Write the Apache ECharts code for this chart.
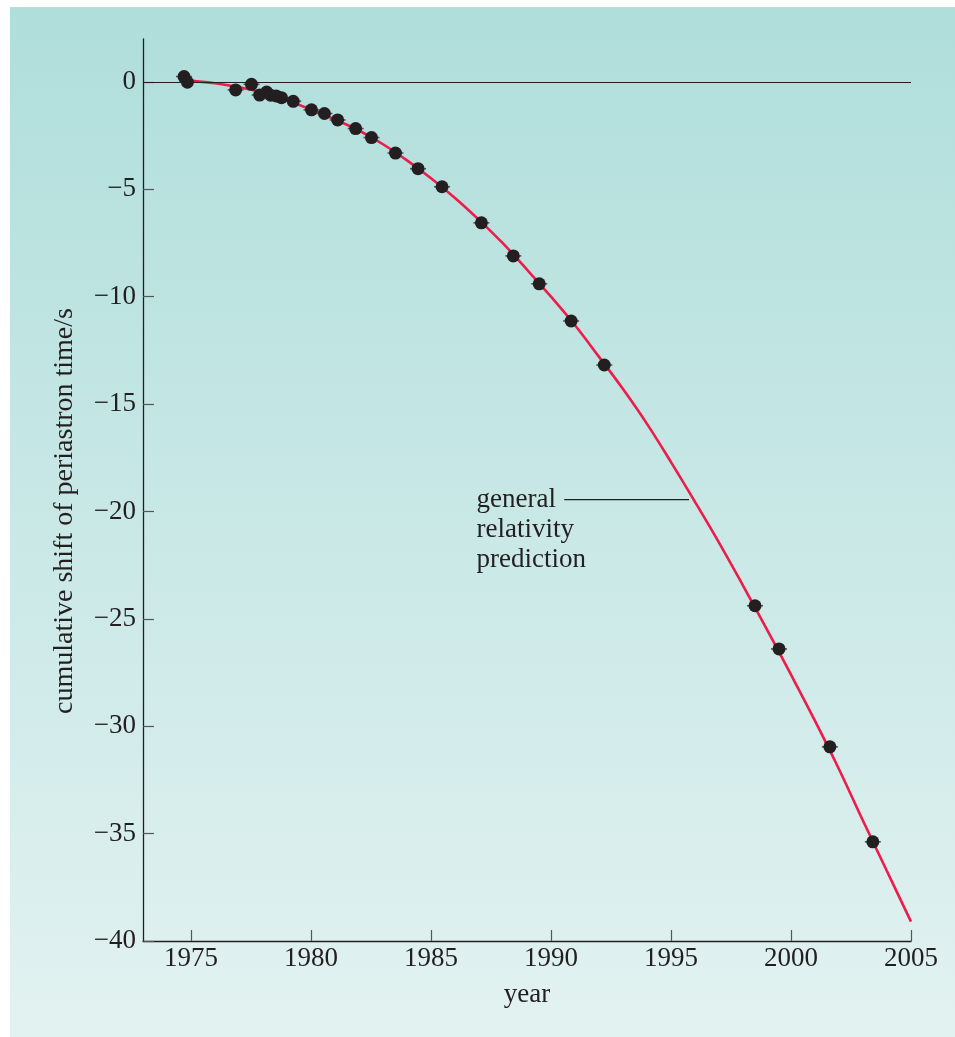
<!DOCTYPE html>
<html><head><meta charset="utf-8">
<script src="https://cdn.jsdelivr.net/npm/echarts@6/dist/echarts.min.js"></script>
<style>html,body{margin:0;padding:0;background:#fff}#c{width:955px;height:1037px}</style>
</head><body><div id="c"></div>
<script>
// Observed cumulative periastron shift (s) by year
const obsYears = [1974.71, 1974.85, 1976.86, 1977.52, 1977.86, 1978.15, 1978.32, 1978.55, 1978.77, 1979.26,
  1980.02, 1980.56, 1981.11, 1981.86, 1982.52, 1983.52, 1984.46, 1985.46, 1987.10, 1988.43,
  1989.51, 1990.84, 1992.22, 1998.50, 1999.50, 2001.62, 2003.41];
const obsShift = [0.25, -0.01, -0.37, -0.11, -0.61, -0.47, -0.62, -0.65, -0.73, -0.90,
  -1.30, -1.47, -1.77, -2.17, -2.59, -3.31, -4.04, -4.88, -6.56, -8.10,
  -9.40, -11.13, -13.18, -24.39, -26.40, -30.96, -35.38];
// General relativity prediction curve
const curveYears = [1974.7, 1975, 1976, 1977, 1978, 1979, 1980, 1981, 1982, 1983, 1984, 1985, 1986, 1987,
  1988, 1989, 1990, 1991, 1992, 1993, 1994, 1995, 1996, 1997, 1998, 1999, 2000, 2001, 2002, 2003, 2004, 2005];
const curveShift = [0.08, 0.05, -0.06, -0.25, -0.5, -0.86, -1.28, -1.75, -2.26, -2.9, -3.65, -4.48, -5.4, -6.42,
  -7.52, -8.74, -10.0, -11.33, -12.8, -14.3, -15.92, -17.7, -19.55, -21.45, -23.45, -25.5, -27.6, -29.75, -32.0, -34.4, -36.75, -39.1];
const xTicks = [1975, 1980, 1985, 1990, 1995, 2000, 2005];
const yTicks = [0, -5, -10, -15, -20, -25, -30, -35, -40];
const xRange = [1973, 2005];
const yRange = [-40, 2];
const annotationLines = ['general', 'relativity', 'prediction'];
const annotationAt = [1986.9, -19.45];
const leaderYears = [1990.55, 1995.75];
const leaderShift = -19.45;
const zeroLevel = 0;

const ink = '#231f20';
const font = '"Liberation Serif", "DejaVu Serif", serif';
const obsData = obsYears.map((x, i) => [x, obsShift[i]]);
const curveData = curveYears.map((x, i) => [x, curveShift[i]]);
const leaderData = leaderYears.map(x => [x, leaderShift]);
const fmtY = v => (v < 0 ? '\u2212' + Math.abs(v) : String(v));
const fmtX = v => String(v);

const chart = echarts.init(document.getElementById('c'), null, {renderer: 'canvas'});
chart.setOption({
  animation: false,
  backgroundColor: '#ffffff',
  graphic: [{
    type: 'rect', z: -100, silent: true,
    shape: {x: 10, y: 7, width: 945, height: 1030},
    style: {fill: new echarts.graphic.LinearGradient(0, 0, 0, 1, [
      {offset: 0, color: '#afdedb'}, {offset: 1, color: '#e2f2f1'}])}
  }],
  grid: {left: 143, top: 39, right: 44, bottom: 96, containLabel: false},
  xAxis: {
    type: 'value', min: xRange[0], max: xRange[1],
    name: 'year', nameLocation: 'middle', nameGap: 40,
    nameTextStyle: {fontFamily: font, fontSize: 27, color: ink},
    axisLine: {onZero: false, lineStyle: {color: ink, width: 1.3}},
    axisTick: {inside: true, length: 11, customValues: xTicks, lineStyle: {color: '#555', width: 1.2}},
    axisLabel: {customValues: xTicks, margin: 4, fontFamily: font, fontSize: 27, color: ink, formatter: fmtX},
    splitLine: {show: false}
  },
  yAxis: {
    type: 'value', min: yRange[0], max: yRange[1],
    name: 'cumulative shift of periastron time/s', nameLocation: 'middle', nameGap: 64,
    nameTextStyle: {fontFamily: font, fontSize: 28, color: ink, padding: [0, 42, 0, 0]},
    axisLine: {onZero: false, lineStyle: {color: ink, width: 1.3}},
    axisTick: {inside: true, length: 11, customValues: yTicks, lineStyle: {color: '#555', width: 1.2}},
    axisLabel: {customValues: yTicks, margin: 7, fontFamily: font, fontSize: 27, color: ink, formatter: fmtY},
    splitLine: {show: false}
  },
  series: [
    {
      type: 'line', data: curveData, showSymbol: false, smooth: 0.4, z: 3,
      lineStyle: {color: '#ec1c4b', width: 2.6},
      markLine: {
        silent: true, symbol: ['none', 'none'], label: {show: false},
        lineStyle: {color: ink, width: 1.2, type: 'solid'},
        data: [{yAxis: zeroLevel}]
      }
    },
    {
      type: 'line', data: leaderData, showSymbol: false, z: 2,
      lineStyle: {color: ink, width: 1.2}
    },
    {
      type: 'scatter', data: obsData, symbol: 'rect', symbolSize: [16, 1.6], z: 4,
      itemStyle: {color: '#555', opacity: 1}
    },
    {
      type: 'scatter', data: obsData, symbol: 'circle', symbolSize: 13, z: 5,
      itemStyle: {color: ink, opacity: 1}
    },
    {
      type: 'scatter', data: [annotationAt], symbolSize: 0, z: 6,
      itemStyle: {opacity: 1},
      label: {
        show: true, position: [0, -15], align: 'left', verticalAlign: 'top',
        formatter: annotationLines.join('\n'), lineHeight: 30,
        fontFamily: font, fontSize: 27, color: ink, opacity: 1
      }
    }
  ]
});
</script></body></html>
